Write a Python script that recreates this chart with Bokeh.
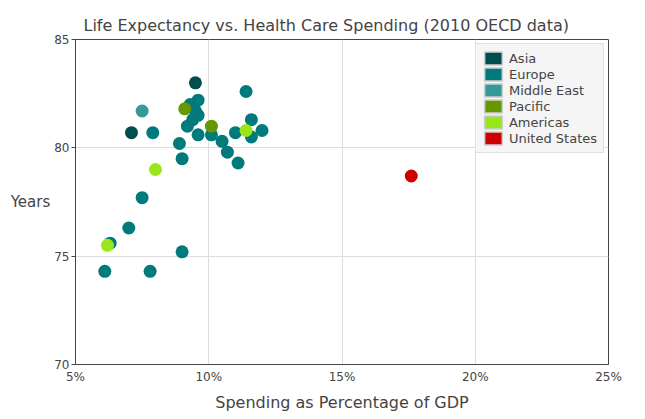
from bokeh.plotting import figure
from bokeh.models import (Legend, LegendItem, FixedTicker, Range1d, CustomJSTickFormatter)
from bokeh.embed import file_html
from bokeh.resources import INLINE

FONT = "DejaVu Sans"
TXT = "#444444"

# ---- data (spending % of GDP, life expectancy years) ----
asia_x = [9.5, 7.1]
asia_y = [83.0, 80.7]
europe_x = [7.9, 11.4, 9.6, 9.3, 9.5, 9.6, 9.4, 9.2, 9.6, 8.9, 9.0, 7.5,
            10.1, 10.5, 10.7, 11.1, 11.0, 11.6, 11.6, 12.0, 7.0, 6.3, 9.0, 6.1, 7.8]
europe_y = [80.7, 82.6, 82.2, 82.0, 81.7, 81.5, 81.3, 81.0, 80.6, 80.2, 79.5, 77.7,
            80.6, 80.3, 79.8, 79.3, 80.7, 81.3, 80.5, 80.8, 76.3, 75.6, 75.2, 74.3, 74.3]
mideast_x = [7.5]
mideast_y = [81.7]
pacific_x = [9.1, 10.1]
pacific_y = [81.8, 81.0]
americas_x = [8.0, 6.2, 11.4]
americas_y = [79.0, 75.5, 80.8]
us_x = [17.6]
us_y = [78.7]

regions = ["Asia", "Europe", "Middle East", "Pacific", "Americas", "United States"]
colors = ["#004d4d", "#007a7a", "#339999", "#669900", "#99e619", "#cc0000"]
xs = [asia_x, europe_x, mideast_x, pacific_x, americas_x, us_x]
ys = [asia_y, europe_y, mideast_y, pacific_y, americas_y, us_y]

x_ticks = [5, 10, 15, 20, 25]
y_ticks = [70, 75, 80, 85]

p = figure(frame_width=533, frame_height=325, output_backend="svg", toolbar_location=None,
           x_range=Range1d(5, 25), y_range=Range1d(70, 85),
           min_border_left=75, min_border_right=28, min_border_top=39, min_border_bottom=47,
           title="Life Expectancy vs. Health Care Spending (2010 OECD data)")

p.title.text_font = FONT
p.title.text_font_size = "16px"
p.title.text_font_style = "normal"
p.title.text_color = TXT
p.title.align = "left"
p.title.offset = 8

p.outline_line_color = "#444444"
p.outline_line_width = 1
p.background_fill_color = "white"
p.border_fill_color = "white"

p.xgrid.grid_line_color = "#dddddd"
p.ygrid.grid_line_color = "#dddddd"

p.xaxis.ticker = FixedTicker(ticks=x_ticks)
p.yaxis.ticker = FixedTicker(ticks=y_ticks)
p.xaxis.formatter = CustomJSTickFormatter(code="return tick + '%'")
for ax in (p.xaxis, p.yaxis):
    ax.axis_line_color = "#444444"
    ax.major_tick_line_color = "#444444"
    ax.major_tick_out = 0
    ax.major_tick_in = 0
    ax.minor_tick_out = 0
    ax.minor_tick_in = 0
    ax.major_label_text_font = FONT
    ax.major_label_text_font_size = "12px"
    ax.major_label_text_color = TXT
    ax.axis_label_text_font = FONT
    ax.axis_label_text_font_size = "16px"
    ax.axis_label_text_font_style = "normal"
    ax.axis_label_text_color = TXT

p.yaxis.major_tick_out = 4
p.xaxis.axis_label = "Spending as Percentage of GDP"
p.xaxis.major_label_standoff = 5
p.xaxis.axis_label_standoff = 6
p.yaxis.axis_label = "Years"
p.yaxis.axis_label_text_font_size = "15px"
p.yaxis.axis_label_orientation = "horizontal"
p.yaxis.major_label_standoff = 2
p.yaxis.axis_label_standoff = 1

# draw Europe first so others sit on top
order = [1, 0, 2, 3, 4, 5]
for i in order:
    p.scatter(xs[i], ys[i], size=13, fill_color=colors[i], line_color=None)

# legend swatches: one quad each, placed outside the visible range
items = []
for name, c in zip(regions, colors):
    r = p.quad(left=[-10], right=[-9], top=[0], bottom=[-1], fill_color=c,
               line_color="#cccccc", line_width=1.5)
    items.append(LegendItem(label=name, renderers=[r]))

legend = Legend(items=items, location="top_right")
legend.label_text_font = FONT
legend.label_text_font_size = "13px"
legend.label_text_color = TXT
legend.glyph_width = 22
legend.glyph_height = 16
legend.label_height = 16
legend.spacing = 0
legend.padding = 6
legend.margin = 4
legend.label_standoff = 5
legend.background_fill_color = "#f5f5f5"
legend.background_fill_alpha = 1
legend.border_line_color = "#cccccc"
p.add_layout(legend)

open("out.html", "w").write(file_html(p, INLINE))
